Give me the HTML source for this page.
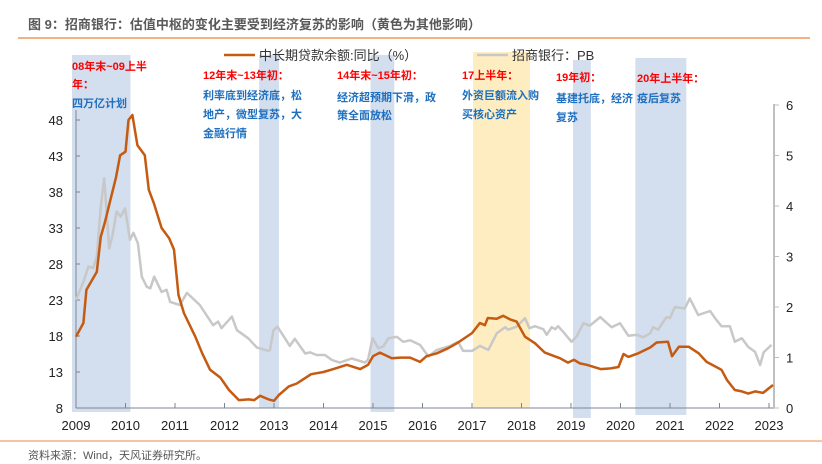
<!DOCTYPE html>
<html><head><meta charset="utf-8"><style>
html,body{margin:0;padding:0;background:#fff;}
svg{display:block;font-family:"Liberation Sans","Noto Sans CJK SC",sans-serif;}
</style></head><body>
<svg id="chart" width="822" height="464" viewBox="0 0 822 464" xmlns="http://www.w3.org/2000/svg">
<text x="28" y="29" font-size="13" font-weight="bold" fill="#595959">图 9：招商银行：估值中枢的变化主要受到经济复苏的影响（黄色为其他影响）</text>
<line x1="18" y1="38" x2="810" y2="38" stroke="#f4b183" stroke-width="2"/>
<g id="bands"></g>
<g id="axes"></g>
<g id="series"></g>
<g>
<line x1="224" y1="55" x2="255" y2="55" stroke="#c55a11" stroke-width="2.5"/>
<text x="259" y="60" font-size="13" fill="#333">中长期贷款余额:同比（%）</text>
<line x1="477" y1="55" x2="508" y2="55" stroke="#c8c8c8" stroke-width="2.5"/>
<text x="512" y="60" font-size="13" fill="#333">招商银行：PB</text>
</g>
<g font-size="11" font-weight="bold">
<text x="72" y="70" fill="#ff0000">08年末~09上半</text>
<text x="72" y="88" fill="#ff0000">年：</text>
<text x="72" y="107" fill="#1f6fbf">四万亿计划</text>
<text x="203" y="79" fill="#ff0000">12年末~13年初：</text>
<text x="203" y="99" fill="#1f6fbf">利率底到经济底，松</text>
<text x="203" y="118" fill="#1f6fbf">地产，微型复苏，大</text>
<text x="203" y="137" fill="#1f6fbf">金融行情</text>
<text x="337" y="79" fill="#ff0000">14年末~15年初：</text>
<text x="337" y="101" fill="#1f6fbf">经济超预期下滑，政</text>
<text x="337" y="119" fill="#1f6fbf">策全面放松</text>
<text x="462" y="79" fill="#ff0000">17上半年：</text>
<text x="462" y="99" fill="#1f6fbf">外资巨额流入购</text>
<text x="462" y="118" fill="#1f6fbf">买核心资产</text>
<text x="556" y="81" fill="#ff0000">19年初：</text>
<text x="556" y="102" fill="#1f6fbf">基建托底，经济</text>
<text x="556" y="121" fill="#1f6fbf">复苏</text>
<text x="637" y="82" fill="#ff0000">20年上半年：</text>
<text x="637" y="102" fill="#1f6fbf">疫后复苏</text>
</g>
<line x1="0" y1="441" x2="822" y2="441" stroke="#f4b183" stroke-width="1.5"/>
<text x="28" y="459" font-size="11" fill="#555">资料来源：Wind，天风证券研究所。</text>
</svg>
<script>
// ---- data ----
const loanDates = [2009.0,2009.15,2009.21,2009.42,2009.5,2009.58,2009.68,2009.81,2009.89,2010.0,2010.06,2010.14,2010.24,2010.39,2010.47,2010.57,2010.73,2010.88,2010.98,2011.07,2011.18,2011.41,2011.55,2011.71,2011.92,2012.09,2012.29,2012.49,2012.6,2012.72,2012.89,2013.0,2013.1,2013.3,2013.46,2013.75,2014.0,2014.2,2014.47,2014.74,2014.9,2015.0,2015.14,2015.38,2015.55,2015.75,2015.95,2016.08,2016.29,2016.52,2016.72,2017.0,2017.16,2017.26,2017.32,2017.5,2017.63,2017.77,2017.9,2018.07,2018.27,2018.47,2018.78,2018.94,2019.06,2019.18,2019.32,2019.6,2019.8,2019.96,2020.06,2020.16,2020.36,2020.6,2020.73,2020.96,2021.04,2021.18,2021.38,2021.58,2021.74,2022.04,2022.15,2022.31,2022.45,2022.58,2022.72,2022.88,2023.08];
const loanValues = [17.9,19.8,24.4,26.9,31.8,33.7,36.5,40.1,43.1,43.6,48.0,48.7,44.5,43.1,38.3,36.5,33.0,31.6,30.0,23.7,21.2,17.9,15.6,13.3,12.2,10.5,9.1,9.2,9.1,9.7,9.2,9.0,9.8,11.0,11.4,12.7,13.0,13.4,14.0,13.4,14.0,15.2,15.7,14.9,15.0,15.0,14.4,15.2,15.6,16.3,17.1,18.4,19.8,19.5,20.5,20.4,20.8,20.3,20.0,17.9,17.0,15.7,14.9,14.3,14.7,14.2,14.0,13.4,13.5,13.7,15.5,15.1,15.6,16.4,17.1,17.2,15.2,16.5,16.5,15.6,14.4,13.3,11.9,10.5,10.3,10.0,10.3,10.1,11.2];
const pbDates = [2009.0,2009.15,2009.25,2009.35,2009.42,2009.5,2009.57,2009.67,2009.74,2009.82,2009.9,2009.99,2010.09,2010.16,2010.25,2010.33,2010.43,2010.5,2010.58,2010.73,2010.83,2010.9,2011.1,2011.24,2011.5,2011.77,2011.87,2011.94,2012.15,2012.25,2012.48,2012.65,2012.89,2012.92,2012.99,2013.07,2013.32,2013.42,2013.63,2013.73,2013.86,2014.03,2014.17,2014.33,2014.57,2014.84,2014.9,2014.99,2015.11,2015.21,2015.31,2015.48,2015.61,2015.75,2015.95,2016.12,2016.29,2016.56,2016.72,2016.82,2017.0,2017.16,2017.33,2017.5,2017.67,2017.73,2017.9,2018.07,2018.16,2018.27,2018.44,2018.51,2018.61,2018.68,2018.74,2018.85,2019.01,2019.11,2019.25,2019.38,2019.59,2019.69,2019.82,2019.99,2020.16,2020.33,2020.46,2020.6,2020.66,2020.76,2020.93,2021.0,2021.1,2021.3,2021.4,2021.57,2021.81,2021.91,2022.04,2022.21,2022.31,2022.45,2022.58,2022.72,2022.82,2022.89,2023.05];
const pbValues = [2.14,2.5,2.8,2.77,3.0,3.99,4.55,3.16,3.43,3.89,3.79,3.95,3.33,3.47,3.26,2.6,2.4,2.37,2.6,2.3,2.34,2.1,2.04,2.28,2.04,1.64,1.71,1.58,1.81,1.54,1.38,1.2,1.13,1.15,1.54,1.61,1.23,1.37,1.08,1.1,1.05,1.05,0.95,0.9,0.98,0.9,0.96,1.38,1.18,1.22,1.38,1.41,1.31,1.34,1.25,1.02,1.15,1.23,1.31,1.13,1.13,1.23,1.15,1.48,1.6,1.55,1.61,1.78,1.58,1.62,1.56,1.45,1.6,1.56,1.62,1.5,1.31,1.41,1.68,1.63,1.8,1.71,1.6,1.68,1.43,1.45,1.4,1.48,1.6,1.55,1.8,1.78,2.0,1.97,2.17,1.84,1.92,1.78,1.62,1.62,1.31,1.38,1.21,1.11,0.85,1.1,1.25];
const yearTicks = [2009,2010,2011,2012,2013,2014,2015,2016,2017,2018,2019,2020,2021,2022,2023];
const leftTicks = [8,13,18,23,28,33,38,43,48];
const rightTicks = [0,1,2,3,4,5,6];
const bandStarts = [2008.92,2012.7,2014.95,2017.02,2019.04,2020.3];
const bandEnds = [2010.1,2013.1,2015.43,2018.17,2019.4,2021.33];
const bandKinds = ["blue","blue","blue","yellow","blue","blue"];

// ---- scales ----
const X0=76, PXY=49.5;
const xs = t => X0 + (t-2009)*PXY;
const yl = v => 408 - (v-8)*7.2;
const yr = v => 408 - v*50.5;
const NS="http://www.w3.org/2000/svg";
function mk(tag, attrs, parent){const e=document.createElementNS(NS,tag);for(const k in attrs)e.setAttribute(k,attrs[k]);parent.appendChild(e);return e;}

const gb=document.getElementById('bands');
const bandTops=[55,55,55,52,60,58], bandBottoms=[412,408,412,408,418,415];
bandStarts.forEach((s,i)=>{
  const r=mk('rect',{x:xs(s),y:bandTops[i],width:xs(bandEnds[i])-xs(s),height:bandBottoms[i]-bandTops[i],fill:bandKinds[i]==='yellow'?'#fdedc0':'#d3deee'},gb);
  
  
});

const ga=document.getElementById('axes');
let e=mk('line',{x1:76,y1:110,x2:76,y2:408,stroke:'#7f8590','stroke-width':1},ga);


e=mk('line',{x1:76,y1:408,x2:775,y2:408,stroke:'#7f8590','stroke-width':1},ga);


e=mk('line',{x1:774,y1:104,x2:774,y2:408,stroke:'#bfbfbf','stroke-width':2},ga);


yearTicks.forEach(y=>{
  mk('line',{x1:xs(y),y1:403,x2:xs(y),y2:408,stroke:'#7f8590'},ga);
  const t=mk('text',{x:xs(y),y:430,'font-size':13,'text-anchor':'middle',fill:'#222'},ga);
  t.textContent=y;
  
  
});
leftTicks.forEach(v=>{
  mk('line',{x1:76,y1:yl(v),x2:80,y2:yl(v),stroke:'#7f8590'},ga);
  const t=mk('text',{x:63,y:yl(v)+5,'font-size':13,'text-anchor':'end',fill:'#222'},ga);
  t.textContent=v;
  
  
});
rightTicks.forEach(v=>{
  mk('line',{x1:774,y1:yr(v),x2:779,y2:yr(v),stroke:'#bfbfbf'},ga);
  const t=mk('text',{x:786,y:yr(v)+5,'font-size':13,fill:'#222'},ga);
  t.textContent=v;
  
  
});

const gs=document.getElementById('series');
const pbPath=mk('path',{d:pbDates.map((t,i)=>(i?'L':'M')+xs(t).toFixed(1)+','+yr(pbValues[i]).toFixed(1)).join(''),fill:'none',stroke:'#c8c8c8','stroke-width':2.5,'stroke-linejoin':'round'},gs);


const loanPath=mk('path',{d:loanDates.map((t,i)=>(i?'L':'M')+xs(t).toFixed(1)+','+yl(loanValues[i]).toFixed(1)).join(''),fill:'none',stroke:'#c55a11','stroke-width':2.5,'stroke-linejoin':'round'},gs);


</script>
</body></html>
